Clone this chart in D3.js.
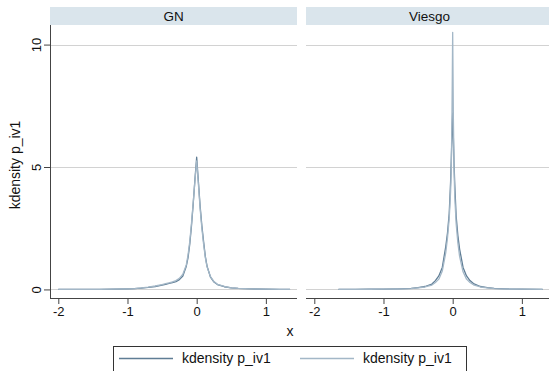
<!DOCTYPE html>
<html>
<head>
<meta charset="utf-8">
<script src="https://cdn.jsdelivr.net/npm/d3@7/dist/d3.min.js"></script>
<style>
  html, body { margin: 0; padding: 0; background: #fff; }
  svg { display: block; font-family: "Liberation Sans", Arial, Helvetica, sans-serif; }
</style>
</head>
<body>
<svg id="chart" width="549" height="371"></svg>
<script>
// Panels (by-groups) and legend entries
const panels = ["GN", "Viesgo"];
const seriesLabels = ["kdensity p_iv1", "kdensity p_iv1"];
const xTicks = [-2, -1, 0, 1];
const yTicks = [0, 5, 10];

// Evaluation grid and estimated densities, GN
const gnX = [-2.0, -1.8, -1.6, -1.4, -1.2, -1.0, -0.9, -0.8, -0.7, -0.6, -0.5, -0.45, -0.4, -0.35, -0.3, -0.25, -0.2, -0.15, -0.125, -0.1, -0.075, -0.05, -0.025, 0, 0.025, 0.05, 0.075, 0.1, 0.125, 0.15, 0.2, 0.25, 0.3, 0.4, 0.5, 0.6, 0.8, 1.0, 1.2, 1.35];
const gnDensity1 = [0.001, 0.002, 0.003, 0.005, 0.01, 0.02, 0.03, 0.05, 0.08, 0.12, 0.18, 0.21, 0.25, 0.28, 0.32, 0.4, 0.55, 0.95, 1.3, 1.85, 2.6, 3.5, 4.5, 5.4, 4.4, 3.4, 2.6, 1.95, 1.35, 0.95, 0.5, 0.3, 0.2, 0.11, 0.06, 0.04, 0.02, 0.01, 0.004, 0.002];
const gnDensity2 = [0.001, 0.002, 0.004, 0.006, 0.012, 0.025, 0.035, 0.06, 0.09, 0.14, 0.2, 0.24, 0.27, 0.31, 0.36, 0.45, 0.62, 1.0, 1.4, 1.95, 2.7, 3.55, 4.45, 5.25, 4.3, 3.3, 2.5, 1.85, 1.3, 0.92, 0.52, 0.32, 0.21, 0.12, 0.065, 0.04, 0.02, 0.01, 0.004, 0.002];

// Evaluation grid and estimated densities, Viesgo
const viesgoX = [-1.65, -1.4, -1.2, -1.0, -0.8, -0.6, -0.5, -0.4, -0.3, -0.25, -0.2, -0.15, -0.1, -0.075, -0.05, -0.03, -0.02, -0.01, -0.005, 0, 0.005, 0.01, 0.02, 0.03, 0.05, 0.075, 0.1, 0.15, 0.2, 0.25, 0.3, 0.4, 0.5, 0.6, 0.8, 1.0, 1.3];
const viesgoDensity1 = [0.003, 0.005, 0.008, 0.012, 0.02, 0.04, 0.07, 0.12, 0.22, 0.36, 0.55, 0.9, 1.75, 2.3, 3.1, 4.4, 5.3, 6.3, 6.8, 7.2, 6.8, 6.2, 5.1, 4.3, 3.0, 2.2, 1.65, 0.9, 0.55, 0.36, 0.24, 0.12, 0.07, 0.045, 0.02, 0.012, 0.003];
const viesgoDensity2 = [0.003, 0.004, 0.007, 0.01, 0.018, 0.035, 0.06, 0.1, 0.18, 0.28, 0.42, 0.75, 1.5, 2.1, 2.9, 4.0, 5.0, 7.2, 8.8, 10.5, 8.8, 7.0, 4.9, 3.8, 2.7, 1.9, 1.35, 0.72, 0.42, 0.28, 0.19, 0.1, 0.06, 0.035, 0.018, 0.01, 0.003];

const panelData = [
  { name: panels[0], x: gnX, series: [gnDensity1, gnDensity2] },
  { name: panels[1], x: viesgoX, series: [viesgoDensity1, viesgoDensity2] }
];

const lineColors = ["#5f7d95", "#a3b7c7"];
const gridColor = "#d2d2d2";
const axisColor = "#444";
const stripFill = "#dae5ec";
const textColor = "#111";

const svg = d3.select("#chart");

// Panel geometry
const panelLeft = [50, 306];
const panelWidth = 247;
const plotTop = 25, plotBottom = 298;
const stripTop = 7, stripBottom = 25;

const y = d3.scaleLinear().domain([-0.35, 10.8]).range([plotBottom, plotTop]);

panelData.forEach((p, i) => {
  const x0 = panelLeft[i];
  const x = d3.scaleLinear().domain([-2.12, 1.45]).range([x0, x0 + panelWidth]);
  const g = svg.append("g");

  // title strip
  g.append("rect")
    .attr("x", x0).attr("y", stripTop)
    .attr("width", panelWidth).attr("height", stripBottom - stripTop)
    .attr("fill", stripFill);
  g.append("text")
    .attr("x", x0 + panelWidth / 2).attr("y", (stripTop + stripBottom) / 2)
    .attr("dy", "0.36em").attr("text-anchor", "middle")
    .attr("font-size", 13.5).attr("fill", textColor)
    .text(p.name);

  // horizontal gridlines
  g.selectAll(".grid").data(yTicks).join("line")
    .attr("x1", x0).attr("x2", x0 + panelWidth)
    .attr("y1", d => Math.round(y(d)) + 0.5).attr("y2", d => Math.round(y(d)) + 0.5)
    .attr("stroke", gridColor).attr("stroke-width", 1);

  // x axis
  const xAxis = d3.axisBottom(x).tickValues(xTicks).tickSize(6).tickPadding(3)
    .tickFormat(d3.format("d"));
  const gx = g.append("g").attr("transform", `translate(0,${plotBottom})`).call(xAxis);
  gx.select(".domain").attr("stroke", axisColor).attr("d", `M${x0},0.5H${x0 + panelWidth}`);
  gx.selectAll(".tick line").attr("stroke", axisColor);
  gx.selectAll(".tick text").attr("font-size", 13).attr("fill", textColor)
    .attr("font-family", "Liberation Sans, Arial, sans-serif")
    .text(d => d < 0 ? "-" + Math.abs(d) : d);

  // y axis on the first panel only
  if (i === 0) {
    const yAxis = d3.axisLeft(y).tickValues(yTicks).tickSize(6).tickFormat(d3.format("d"));
    const gy = g.append("g").attr("transform", `translate(${x0},0)`).call(yAxis);
    gy.select(".domain").attr("stroke", axisColor).attr("d", `M0.5,${plotTop}V${plotBottom}`);
    gy.selectAll(".tick line").attr("stroke", axisColor);
    gy.selectAll(".tick text")
      .attr("font-size", 13).attr("fill", textColor)
      .attr("font-family", "Liberation Sans, Arial, sans-serif")
      .attr("x", null).attr("dy", null)
      .attr("text-anchor", "middle")
      .attr("transform", "translate(-9,0) rotate(-90)");
  }

  // density curves
  const line = d3.line().x((d, k) => x(p.x[k])).y(d => y(d));
  p.series.forEach((vals, s) => {
    g.append("path")
      .datum(vals)
      .attr("d", line)
      .attr("fill", "none")
      .attr("stroke", lineColors[s])
      .attr("stroke-width", 1.3)
      .attr("stroke-linejoin", "round");
  });
});

// axis titles
svg.append("text")
  .attr("x", 290).attr("y", 331).attr("dy", "0.35em")
  .attr("text-anchor", "middle").attr("font-size", 14).attr("fill", textColor)
  .text("x");
svg.append("text")
  .attr("transform", "translate(15,165) rotate(-90)")
  .attr("dy", "0.35em").attr("text-anchor", "middle")
  .attr("font-size", 14).attr("fill", textColor)
  .text("kdensity p_iv1");

// legend
const legend = svg.append("g");
legend.append("rect")
  .attr("x", 113.5).attr("y", 346.5).attr("width", 353).attr("height", 40)
  .attr("fill", "#fff").attr("stroke", "#333").attr("stroke-width", 1);
const legendItems = [{ x: 119 }, { x: 300 }];
legendItems.forEach((it, s) => {
  legend.append("line")
    .attr("x1", it.x).attr("x2", it.x + 54)
    .attr("y1", 358.5).attr("y2", 358.5)
    .attr("stroke", lineColors[s]).attr("stroke-width", 1.6);
  legend.append("text")
    .attr("x", it.x + 63).attr("y", 358.5).attr("dy", "0.35em")
    .attr("font-size", 14).attr("fill", textColor)
    .text(seriesLabels[s]);
});
</script>
</body>
</html>
